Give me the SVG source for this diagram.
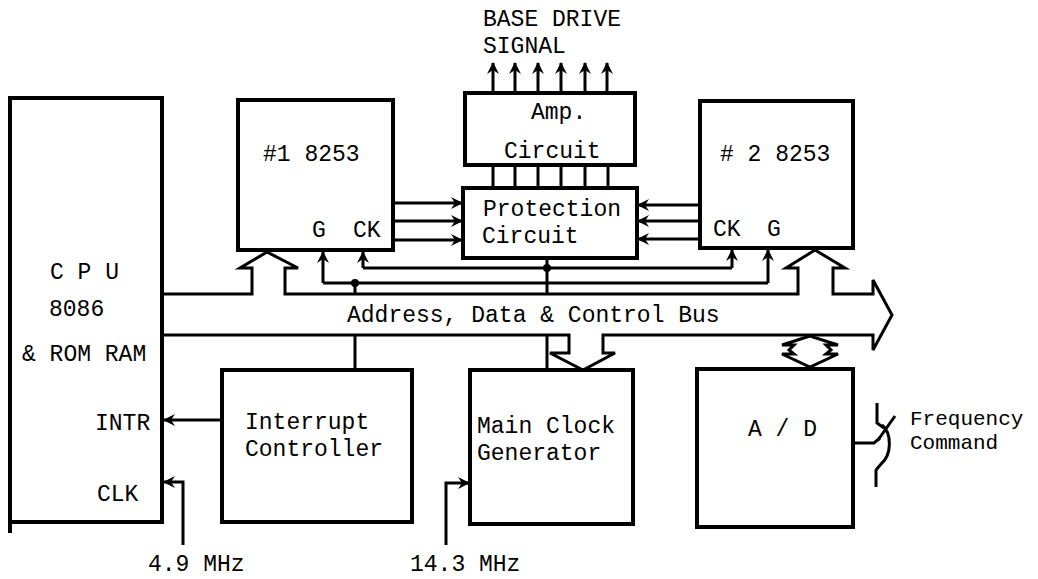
<svg xmlns="http://www.w3.org/2000/svg" width="1038" height="579" viewBox="0 0 1038 579">
<style>
.box{fill:none;stroke:#000;stroke-width:4;stroke-linejoin:miter}
.ln{fill:none;stroke:#000;stroke-width:3;stroke-linejoin:miter}
.t{font-family:"Liberation Mono","DejaVu Sans Mono",monospace;font-size:23px;fill:#000}
.s{font-family:"Liberation Mono","DejaVu Sans Mono",monospace;font-size:21px;fill:#000}
</style>
<defs>
<marker id="ah" markerUnits="userSpaceOnUse" markerWidth="13" markerHeight="12" refX="11" refY="6" orient="auto">
<path d="M0,0 L12,6 L0,12 L4,6 z" fill="#000"/>
</marker>
</defs>
<rect width="1038" height="579" fill="#fff"/>

<g id="cpu">
<rect class="box" x="10" y="98" width="152" height="424"/>
<path class="box" d="M10,522 V533"/>
<text class="t" x="50" y="279">C P U</text>
<text class="t" x="49" y="316">8086</text>
<text class="t" x="22" y="361">&amp; ROM RAM</text>
<text class="t" x="95" y="430">INTR</text>
<text class="t" x="97" y="501">CLK</text>
</g>

<g id="timer1">
<rect class="box" x="238" y="100" width="155" height="150"/>
<text class="t" x="263" y="161">#1 8253</text>
<text class="t" x="312" y="237">G</text>
<text class="t" x="353" y="237">CK</text>
</g>

<g id="amp">
<rect class="box" x="465" y="93" width="170" height="72"/>
<text class="t" x="531" y="119">Amp.</text>
<text class="t" x="504" y="158">Circuit</text>
</g>

<g id="protection">
<rect class="box" x="463" y="188" width="174" height="70"/>
<text class="t" x="483" y="216">Protection</text>
<text class="t" x="482" y="243">Circuit</text>
</g>

<g id="timer2">
<rect class="box" x="700" y="101" width="153" height="147"/>
<text class="t" x="720" y="161"># 2 8253</text>
<text class="t" x="713" y="236">CK</text>
<text class="t" x="767" y="236">G</text>
</g>

<g id="interrupt">
<rect class="box" x="222" y="370" width="190" height="152"/>
<text class="t" x="245" y="429">Interrupt</text>
<text class="t" x="245" y="456">Controller</text>
</g>

<g id="clockgen">
<rect class="box" x="470" y="370" width="163" height="154"/>
<text class="t" x="477" y="433">Main Clock</text>
<text class="t" x="477" y="460">Generator</text>
</g>

<g id="adc">
<rect class="box" x="697" y="369" width="156" height="158"/>
<text class="t" x="748" y="436">A / D</text>
</g>

<g id="labels">
<text class="t" x="483" y="26">BASE DRIVE</text>
<text class="t" x="483" y="53">SIGNAL</text>
<text class="t" x="347" y="322">Address, Data &amp; Control Bus</text>
<text class="s" x="910" y="425">Frequency</text>
<text class="s" x="910" y="449">Command</text>
<text class="t" x="148" y="571">4.9 MHz</text>
<text class="t" x="410" y="571">14.3 MHz</text>
</g>

<g id="connectors">
<path class="ln" marker-end="url(#ah)" d="M493,93 V63"/>
<path class="ln" marker-end="url(#ah)" d="M515,93 V63"/>
<path class="ln" marker-end="url(#ah)" d="M538,93 V63"/>
<path class="ln" marker-end="url(#ah)" d="M561,93 V63"/>
<path class="ln" marker-end="url(#ah)" d="M585,93 V63"/>
<path class="ln" marker-end="url(#ah)" d="M607,93 V63"/>
<path class="ln" d="M493,165 V188 M515,165 V188 M538,165 V188 M561,165 V188 M585,165 V188 M608,165 V188"/>
<path class="ln" marker-end="url(#ah)" d="M393,203 H462"/>
<path class="ln" marker-end="url(#ah)" d="M393,221 H462"/>
<path class="ln" marker-end="url(#ah)" d="M393,240 H462"/>
<path class="ln" marker-end="url(#ah)" d="M700,205 H638"/>
<path class="ln" marker-end="url(#ah)" d="M700,221 H638"/>
<path class="ln" marker-end="url(#ah)" d="M700,239 H638"/>
<path class="ln" d="M363,268 H732"/>
<path class="ln" d="M323,283 H768"/>
<path class="ln" marker-end="url(#ah)" d="M363,268 V252"/>
<path class="ln" marker-end="url(#ah)" d="M323,283 V252"/>
<path class="ln" marker-end="url(#ah)" d="M732,268 V250"/>
<path class="ln" marker-end="url(#ah)" d="M768,283 V250"/>
<path class="ln" d="M547,258 V294"/>
<path class="ln" d="M355,283 V294"/>
<circle cx="547" cy="268" r="4" fill="#000"/>
<circle cx="355" cy="283" r="4" fill="#000"/>
<path class="ln" d="M162,294 H252 V268 H240 L267,252 L298,268 H285 V294 H798 V268 H786 L815,250 L845,268 H833 V294 H873 V280 L892,315 L873,350 V335 H603 V353 H615 L583,370 L550,353 H569 V335 H162"/>
<path class="ln" d="M810,336 L782,345 H794 L789,350 L794,354 H782 L810,367 L838,354 H826 L831,350 L826,345 H838 Z"/>
<path class="ln" d="M355,335 V370"/>
<path class="ln" d="M547,335 V370"/>
<path class="ln" marker-end="url(#ah)" d="M222,420 H164"/>
<path class="ln" marker-end="url(#ah)" d="M183,545 V482 H164"/>
<path class="ln" marker-end="url(#ah)" d="M446,545 V483 H469"/>
<path class="ln" d="M853,443 H874 L880,438"/>
<path class="ln" d="M877,403 V423 L884,428"/>
<path class="ln" d="M895,416 L878,440"/>
<path class="ln" d="M882,425 C892,433 892,455 881,464 L876,470 V487"/>
</g>
</svg>
